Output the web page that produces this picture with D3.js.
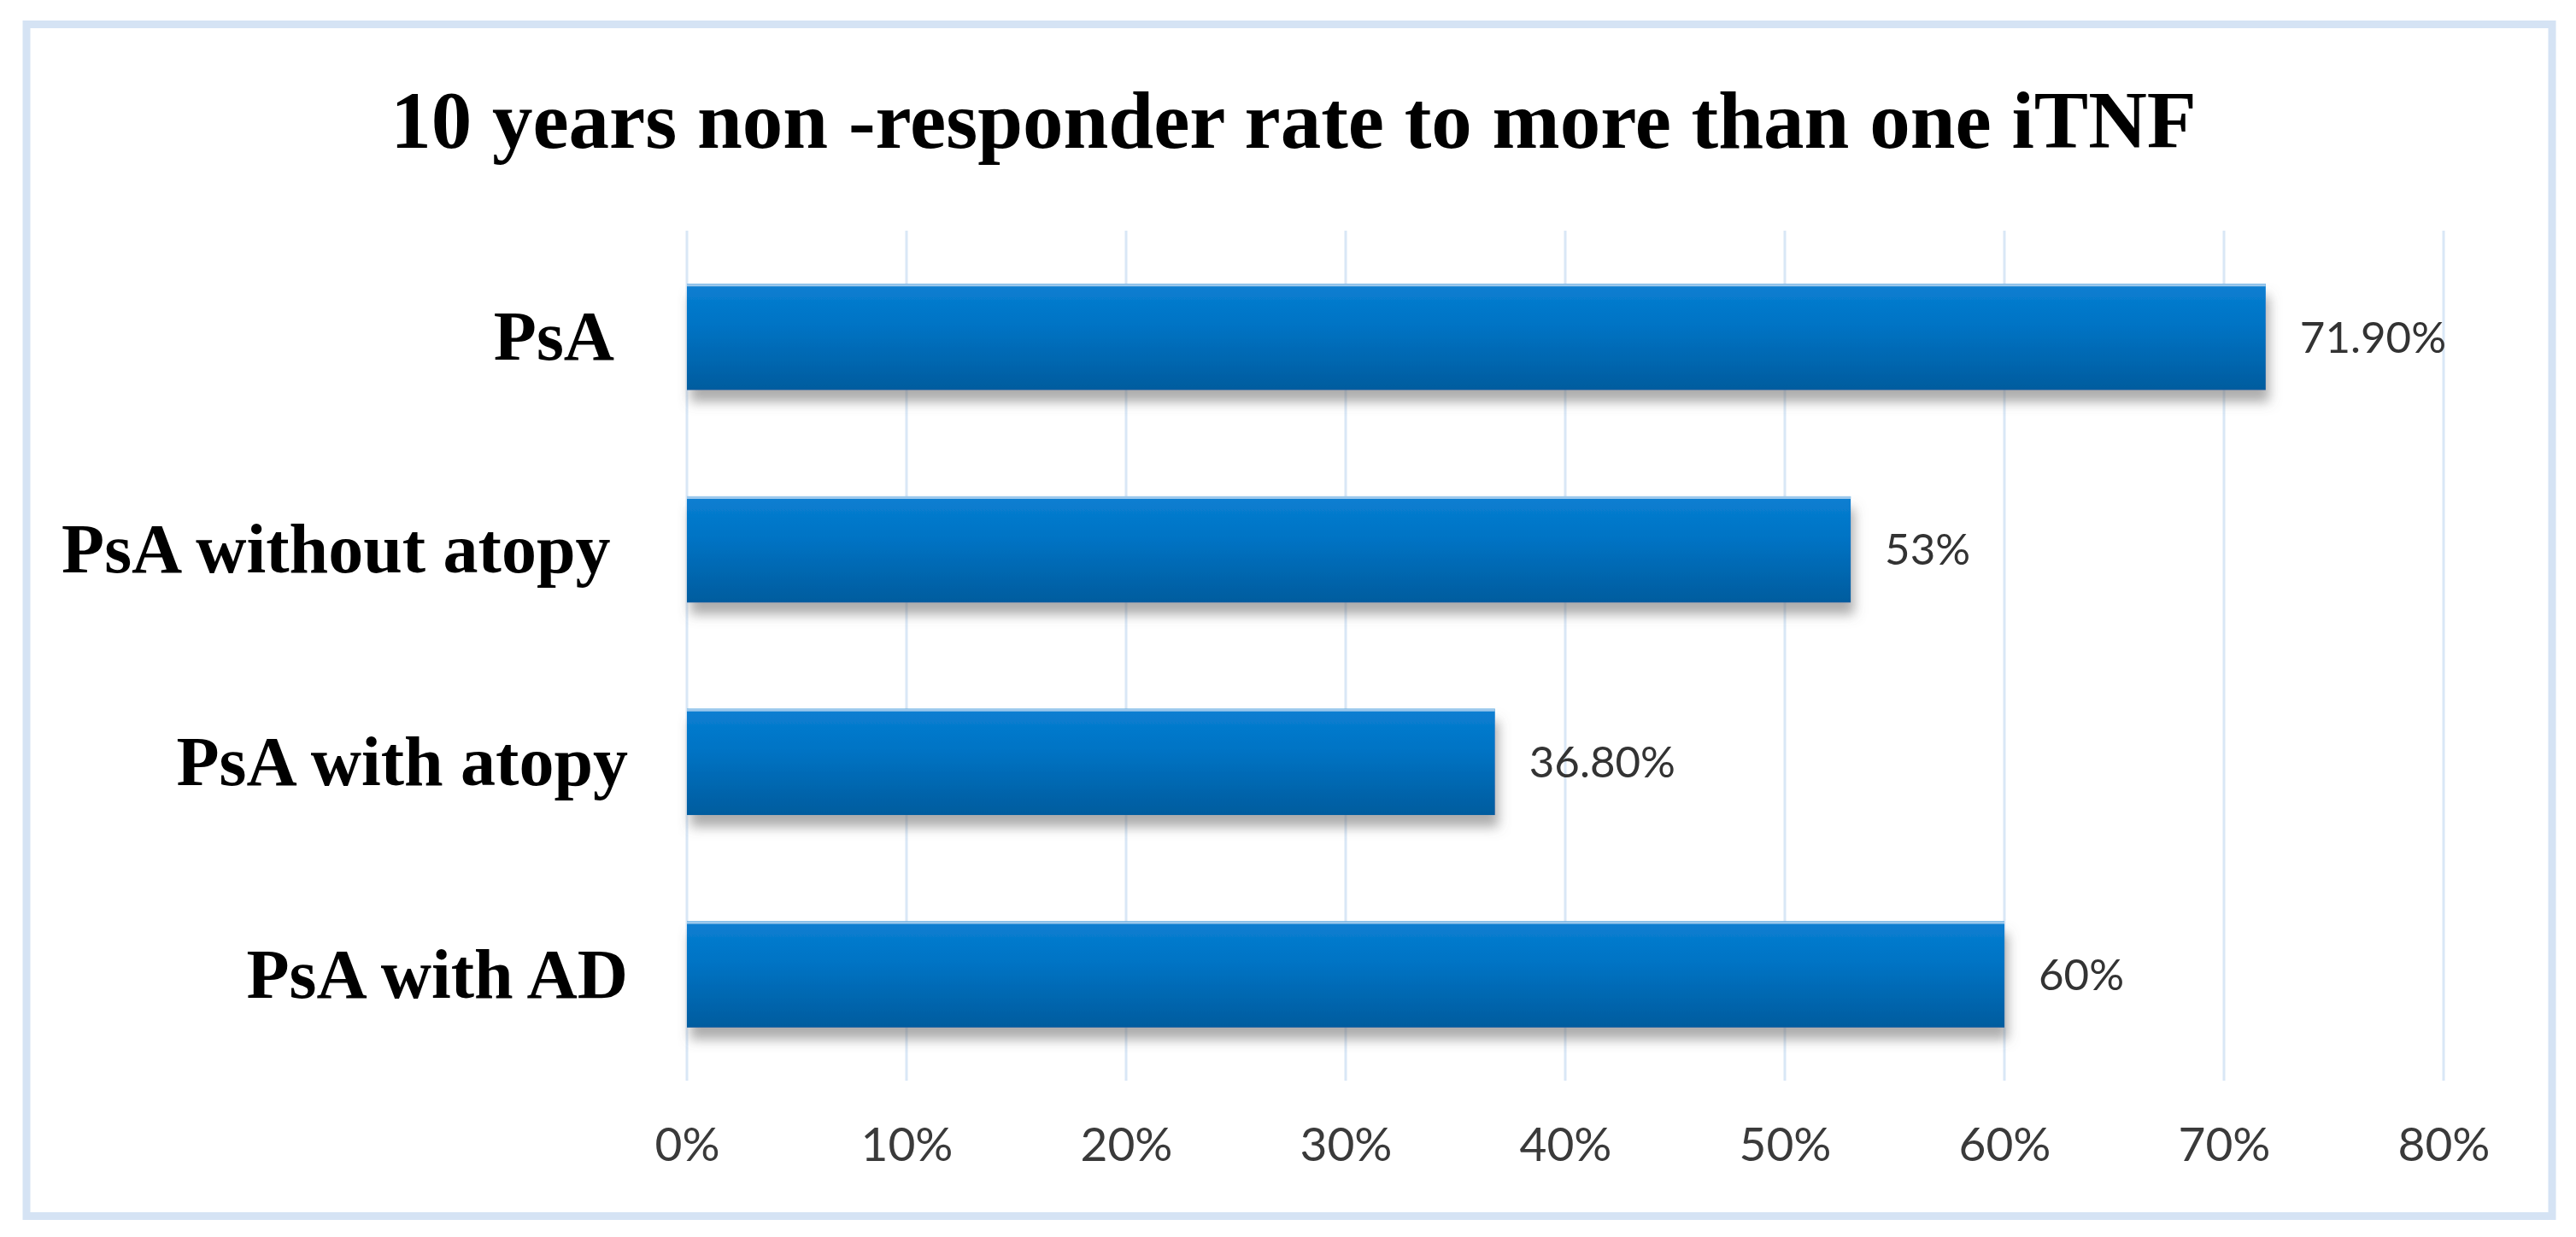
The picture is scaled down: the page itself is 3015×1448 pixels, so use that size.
<!DOCTYPE html>
<html>
<head>
<meta charset="utf-8">
<script src="https://cdnjs.cloudflare.com/ajax/libs/d3/7.8.5/d3.min.js"></script>
<style>
  html, body { margin: 0; padding: 0; background: #fff; }
  text { white-space: pre; }
</style>
</head>
<body>
<div id="chart"></div>
<script>
// data
var categories = ["PsA ", "PsA without atopy ", "PsA with atopy", "PsA with AD"];
var values = [71.9, 53, 36.8, 60];
var valueLabels = ["71.90%", "53%", "36.80%", "60%"];
var xTicks = [0, 10, 20, 30, 40, 50, 60, 70, 80];
var title = "10 years non -responder rate to more than one iTNF";

var svgWidth = 3015;
var svgHeight = 1448;

var plot = { left: 804, right: 2860, top: 270, bottom: 1265 };

var svg = d3.select("#chart")
  .append("svg")
  .attr("width", svgWidth)
  .attr("height", svgHeight);

var defs = svg.append("defs");

// bar gradient, lighter at top
var grad = defs.append("linearGradient")
  .attr("id", "barGrad")
  .attr("x1", 0).attr("y1", 0).attr("x2", 0).attr("y2", 1);
grad.append("stop").attr("offset", "0%").attr("stop-color", "#0a7fd2");
grad.append("stop").attr("offset", "40%").attr("stop-color", "#0073c4");
grad.append("stop").attr("offset", "100%").attr("stop-color", "#005c9e");

var shadow = defs.append("filter")
  .attr("id", "shadow")
  .attr("x", "-5%").attr("y", "-20%")
  .attr("width", "110%").attr("height", "160%");
shadow.append("feDropShadow")
  .attr("dx", 4).attr("dy", 14)
  .attr("stdDeviation", 7)
  .attr("flood-color", "#6b6b6b")
  .attr("flood-opacity", 0.55);

// frame
svg.append("rect")
  .attr("x", 31)
  .attr("y", 28.5)
  .attr("width", 2956)
  .attr("height", 1395)
  .attr("fill", "#fff")
  .attr("stroke", "#d5e3f4")
  .attr("stroke-width", 9);

// scales
var xScale = d3.scaleLinear()
  .domain([0, 80])
  .range([plot.left, plot.right]);

var yScale = d3.scaleBand()
  .domain(categories)
  .range([plot.top, plot.bottom])
  .paddingInner(0.5)
  .paddingOuter(0.25);

// gridlines
svg.append("g")
  .selectAll("line")
  .data(xTicks)
  .enter()
  .append("line")
  .attr("x1", d => xScale(d))
  .attr("x2", d => xScale(d))
  .attr("y1", plot.top)
  .attr("y2", plot.bottom)
  .attr("stroke", "#d9e7f6")
  .attr("stroke-width", 3);

// x axis labels
var xAxis = d3.axisBottom(xScale)
  .tickValues(xTicks)
  .tickFormat(d => d + "%")
  .tickSize(0)
  .tickPadding(0);

var xAxisG = svg.append("g")
  .attr("transform", `translate(0, ${plot.bottom + 94})`)
  .call(xAxis);
xAxisG.select(".domain").remove();
xAxisG.selectAll("text")
  .attr("dy", 0)
  .attr("font-family", "Lato, 'Open Sans', sans-serif")
  .attr("font-size", 55)
  .attr("fill", "#3a3a3a");

// bars
svg.append("g")
  .selectAll("rect")
  .data(values)
  .enter()
  .append("rect")
  .attr("x", xScale(0))
  .attr("y", (d, i) => yScale(categories[i]))
  .attr("width", d => xScale(d) - xScale(0))
  .attr("height", yScale.bandwidth())
  .attr("fill", "url(#barGrad)")
  .attr("filter", "url(#shadow)");

// light line on top of bars
svg.append("g")
  .selectAll("line")
  .data(values)
  .enter()
  .append("line")
  .attr("x1", xScale(0))
  .attr("x2", d => xScale(d))
  .attr("y1", (d, i) => yScale(categories[i]) + 1.5)
  .attr("y2", (d, i) => yScale(categories[i]) + 1.5)
  .attr("stroke", "#9cc8ec")
  .attr("stroke-width", 3);

// value labels
svg.append("g")
  .selectAll("text")
  .data(values)
  .enter()
  .append("text")
  .attr("x", d => xScale(d) + 40)
  .attr("y", (d, i) => yScale(categories[i]) + yScale.bandwidth() / 2)
  .attr("dy", "0.36em")
  .attr("font-family", "Lato, 'Open Sans', sans-serif")
  .attr("font-size", 51)
  .attr("fill", "#333")
  .text((d, i) => valueLabels[i]);

// category labels
svg.append("g")
  .selectAll("text")
  .data(categories)
  .enter()
  .append("text")
  .attr("x", 735)
  .attr("y", d => yScale(d) + yScale.bandwidth() / 2)
  .attr("dy", "0.33em")
  .attr("text-anchor", "end")
  .attr("font-family", "'Liberation Serif', 'Times New Roman', serif")
  .attr("font-weight", "bold")
  .attr("font-size", 82)
  .attr("fill", "#000")
  .text(d => d);

// title
svg.append("text")
  .attr("x", 1514)
  .attr("y", 173)
  .attr("text-anchor", "middle")
  .attr("font-family", "'Liberation Serif', 'Times New Roman', serif")
  .attr("font-weight", "bold")
  .attr("font-size", 95)
  .attr("fill", "#000")
  .text(title);
</script>
</body>
</html>
